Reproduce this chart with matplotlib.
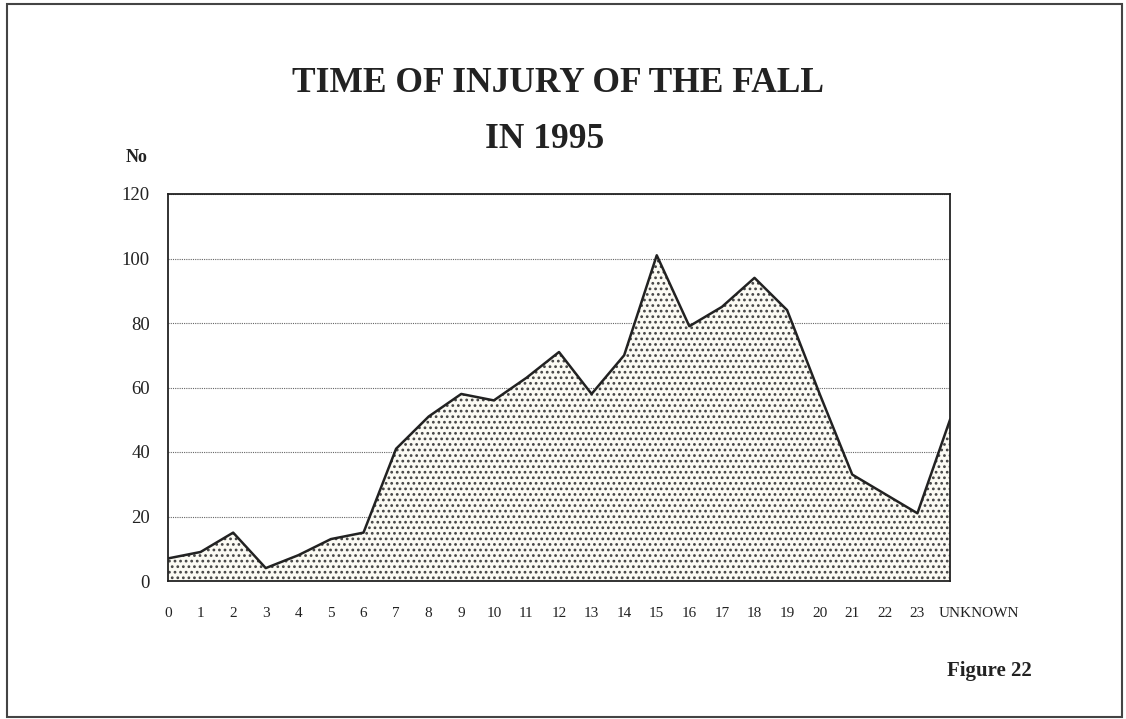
import matplotlib
matplotlib.use('Agg')
import matplotlib.pyplot as plt
import matplotlib.transforms as mtransforms
from matplotlib.patches import Rectangle

plt.rcParams['font.family'] = ['Liberation Serif', 'DejaVu Serif']
plt.rcParams['hatch.linewidth'] = 1.2

# hour of day of the fall, last category is unknown time
hours = [str(h) for h in range(24)] + ['UNKNOWN']
counts = [7, 9, 15, 4, 8, 13, 15, 41, 51, 58, 56, 63, 71,
          58, 70, 101, 79, 85, 94, 84, 58, 33, 27, 21, 50]
y_ticks = [0, 20, 40, 60, 80, 100, 120]

fig = plt.figure(figsize=(11.26, 7.19), dpi=100)
ax = fig.add_axes([168 / 1126, 1 - 581 / 719, 782 / 1126, 387 / 719])

x = list(range(len(hours)))
ax.fill_between(x, 0, counts, facecolor='#fbfaf3', edgecolor='#444444',
                hatch='...', linewidth=0, zorder=2)
ax.plot(x, counts, color='#222222', linewidth=1.8, zorder=3)

ax.set_xlim(0, len(hours) - 1)
ax.set_ylim(0, 120)
ax.set_yticks(y_ticks)
ax.set_xticks(x)
ax.set_xticklabels(hours, fontsize=11)
ax.set_yticklabels([str(v) for v in y_ticks], fontsize=13.5)
ax.tick_params(axis='both', length=0, colors='#222222')
ax.tick_params(axis='y', pad=13)
ax.tick_params(axis='x', pad=19)

# the long label sits to the right of its point in the original
lab = ax.get_xticklabels()[-1]
lab.set_transform(lab.get_transform() +
                  mtransforms.ScaledTranslation(0.29, 0, fig.dpi_scale_trans))

ax.grid(axis='y', linestyle=(0, (1, 1)), color='#666666', linewidth=0.8, zorder=1)
ax.set_axisbelow(True)
for s in ax.spines.values():
    s.set_linewidth(1.3)
    s.set_color('#222222')

fig.text(558 / 1126, 1 - 83 / 719, 'TIME OF INJURY OF THE FALL', fontsize=25.5,
         fontweight='bold', ha='center', va='center', color='#222222')
fig.text(545 / 1126, 1 - 139 / 719, 'IN 1995', fontsize=25.5,
         fontweight='bold', ha='center', va='center', color='#222222')
fig.text(137 / 1126, 1 - 158 / 719, 'No', fontsize=13,
         fontweight='bold', ha='center', va='center', color='#222222')
fig.text(989 / 1126, 1 - 671 / 719, 'Figure 22', fontsize=15,
         fontweight='bold', ha='center', va='center', color='#222222')

# page frame
fig.patches.append(Rectangle((7 / 1126, 2 / 719), 1115 / 1126, 713 / 719,
                             transform=fig.transFigure, fill=False,
                             edgecolor='#444444', linewidth=1.5))

fig.savefig('out.png', dpi=100)
plt.close(fig)
